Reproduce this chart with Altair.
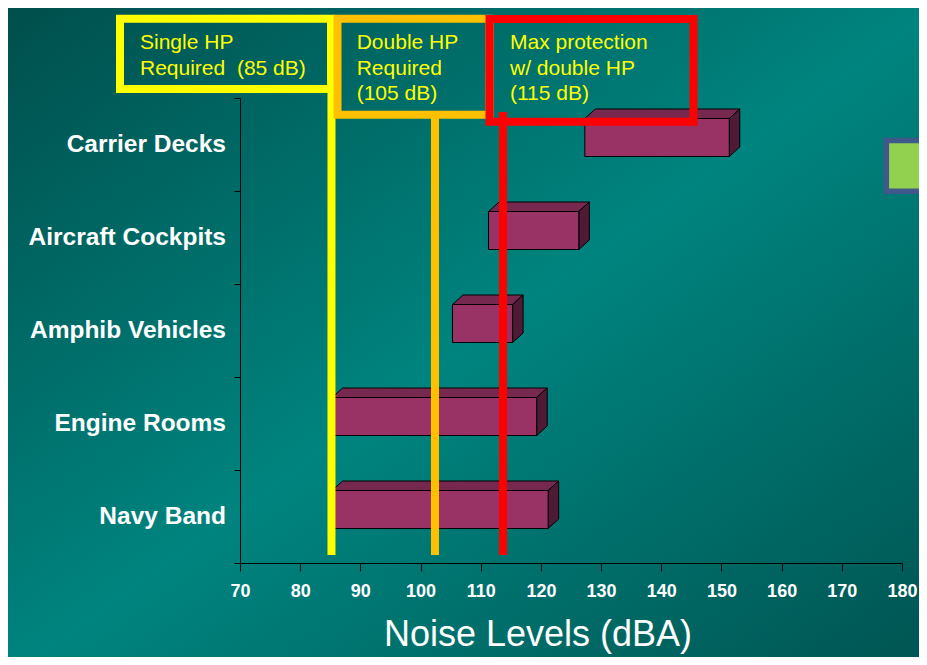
import altair as alt
import pandas as pd

# ---------------- data ----------------
categories = ["Carrier Decks", "Aircraft Cockpits", "Amphib Vehicles", "Engine Rooms", "Navy Band"]
low = [127.3, 111.3, 105.3, 85.3, 85.3]
high = [151.3, 126.3, 115.3, 119.3, 121.2]

thresholds = [85.2, 102.4, 113.7]
threshold_colors = ["#ffff00", "#ffc000", "#ff0000"]
box_texts = [
    ["Single HP", "Required \u00a0(85 dB)"],
    ["Double HP", "Required", "(105 dB)"],
    ["Max protection", "w/ double HP", "(115 dB)"],
]
x_ticks = list(range(70, 181, 10))

# ---------------- geometry / style ----------------
W, H = 662, 465
XMIN, XMAX = 70, 180
PX = W / (XMAX - XMIN)
PY = H / len(categories)
DX = 10.5 / PX
DY = 9.5 / PY
FRONT_UP = 26 / PY
FRONT_DOWN = 12 / PY

SANS = "Liberation Sans, Arial, sans-serif"

FRONT = "#993366"
TOP = "#77284f"
SIDE = "#4f1a36"

rows = []
top_rows = []
side_rows = []
for i, (c, a, b) in enumerate(zip(categories, low, high)):
    t = i + 0.5 - FRONT_UP
    bt = i + 0.5 + FRONT_DOWN
    rows.append({"cat": c, "x1": a, "x2": b, "top": t, "bottom": bt, "ymid": i + 0.5})
    top_rows += [
        {"cat": c, "x": a, "ya": t, "yb": t},
        {"cat": c, "x": a + DX, "ya": t, "yb": t - DY},
        {"cat": c, "x": b, "ya": t, "yb": t - DY},
        {"cat": c, "x": b + DX, "ya": t - DY, "yb": t - DY},
    ]
    side_rows += [
        {"cat": c, "x": b, "ya": t, "yb": bt},
        {"cat": c, "x": b + DX, "ya": t - DY, "yb": bt - DY},
    ]
bars = pd.DataFrame(rows)
tops = pd.DataFrame(top_rows)
sides = pd.DataFrame(side_rows)

xscale = alt.Scale(domain=[XMIN, XMAX], nice=False, zero=False)
yscale = alt.Scale(domain=[0, len(categories)], reverse=True, nice=False, zero=False)

X_AX = alt.Axis(
    values=x_ticks, tickSize=8, labelFont=SANS, labelFontSize=18, labelFontWeight="bold",
    labelColor="white", labelPadding=11, labelFlush=False, labelOverlap=False,
    domainColor="black", tickColor="black", grid=False, zindex=1,
    title="Noise Levels (dBA)", titleFont=SANS, titleFontSize=36, titleFontWeight="normal",
    titleColor="white", titleX=297.5, titleY=82, titleAlign="center", titleBaseline="alphabetic",
)
Y_AX = alt.Axis(
    values=list(range(len(categories) + 1)), labels=False, tickSize=6, title=None,
    grid=False, domainColor="black", tickColor="black", zindex=1,
)

dummy = alt.Data(values=[{"a": 1}])

PAD_L, PAD_T, PAD_R, PAD_B = 232, 90, 17, 94

grad = alt.LinearGradient(
    gradient="linear",
    stops=[
        alt.GradientStop(offset=0, color="#004f4c"),
        alt.GradientStop(offset=0.5, color="#00847f"),
        alt.GradientStop(offset=1, color="#005350"),
    ],
    x1=0, y1=0, x2=1, y2=1,
)

bg = alt.Chart(dummy).mark_rect(fill=grad, strokeWidth=0).encode(
    x=alt.value(-PAD_L), x2=alt.value(W + PAD_R + 20),
    y=alt.value(-PAD_T), y2=alt.value(H + PAD_B + 20),
)

green = alt.Chart(dummy).mark_rect(fill="#92d050", stroke="#41588b", strokeWidth=5.5).encode(
    x=alt.value(646.3), x2=alt.value(760), y=alt.value(42.5), y2=alt.value(93.3)
)

front = alt.Chart(bars).mark_rect(fill=FRONT, stroke="black", strokeWidth=1).encode(
    x=alt.X("x1:Q", scale=xscale, axis=X_AX),
    x2="x2:Q",
    y=alt.Y("top:Q", scale=yscale, axis=Y_AX),
    y2="bottom:Q",
)
top_face = alt.Chart(tops).mark_area(orient="vertical", fill=TOP, stroke="black", strokeWidth=1, opacity=1).encode(
    x=alt.X("x:Q", scale=xscale, axis=X_AX),
    y=alt.Y("ya:Q", scale=yscale, axis=Y_AX, stack=None),
    y2="yb:Q",
    detail="cat:N",
)
side_face = alt.Chart(sides).mark_area(orient="vertical", fill=SIDE, stroke="black", strokeWidth=1, opacity=1).encode(
    x=alt.X("x:Q", scale=xscale, axis=X_AX),
    y=alt.Y("ya:Q", scale=yscale, axis=Y_AX, stack=None),
    y2="yb:Q",
    detail="cat:N",
)

box_geo = [
    (-120, 91, -79.3, -9),
    (97.5, 249.5, -79.3, 16.7),
    (249.5, 453.5, -79, 23.7),
]
line_tops = [-79.3, 16.7, 14]
text_x = [-100, 116.7, 270]

annot = []
for k in range(3):
    x0, x1, y0, y1 = box_geo[k]
    annot.append(
        alt.Chart(dummy).mark_rect(fill="transparent", stroke=threshold_colors[k], strokeWidth=8).encode(
            x=alt.value(x0), x2=alt.value(x1), y=alt.value(y0), y2=alt.value(y1)
        )
    )
    annot.append(
        alt.Chart(pd.DataFrame({"v": [thresholds[k]]})).mark_rule(color=threshold_colors[k], strokeWidth=8).encode(
            x=alt.X("v:Q", scale=xscale, axis=X_AX), y=alt.value(line_tops[k]), y2=alt.value(457)
        )
    )

texts = []
for k in range(3):
    texts.append(
        alt.Chart(dummy).mark_text(
            text=box_texts[k], align="left", baseline="alphabetic", lineHeight=25.5,
            font=SANS, fontSize=21, color="#ffff00",
        ).encode(x=alt.value(text_x[k]), y=alt.value(-49))
    )

ylabels = alt.Chart(bars).mark_text(
    align="right", baseline="middle", font=SANS, fontSize=24.5, fontWeight="bold", color="white"
).encode(
    x=alt.value(-14),
    y=alt.Y("ymid:Q", scale=yscale, axis=Y_AX),
    text="cat:N",
)

chart = alt.layer(bg, green, top_face, side_face, front, *annot, *texts, ylabels).properties(
    width=W, height=H,
    padding={"left": PAD_L, "top": PAD_T, "right": PAD_R, "bottom": PAD_B},
    autosize=alt.AutoSizeParams(type="none"),
    background="#00605c",
).configure_view(stroke=None)

chart.save("out.html", embed_options={"renderer": "svg", "actions": False})
